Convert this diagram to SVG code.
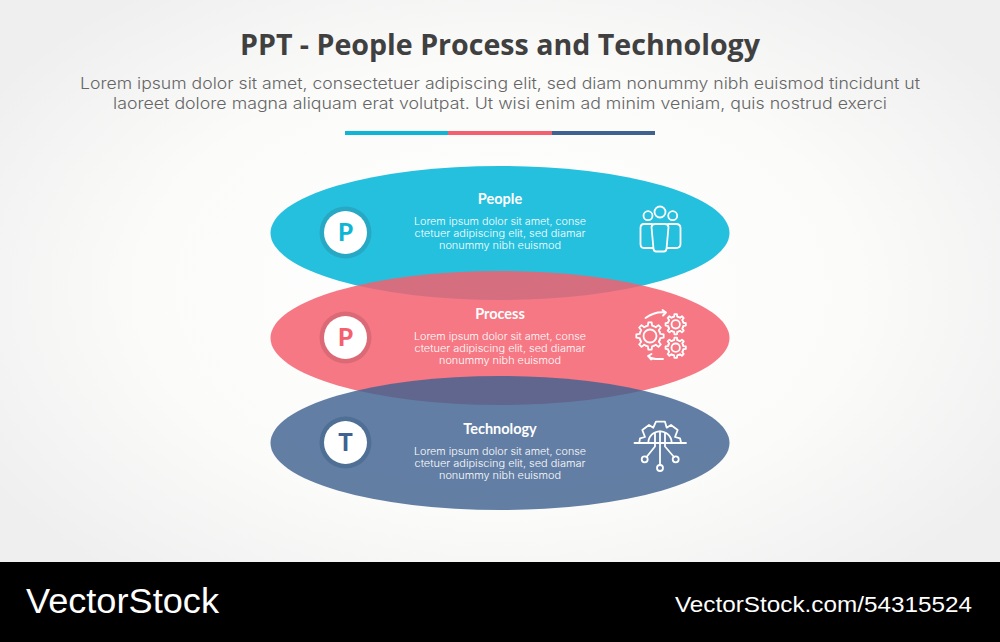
<svg xmlns="http://www.w3.org/2000/svg" width="1000" height="642" viewBox="0 0 1000 642">
<style>
.h{font-family:"Lato","Liberation Sans",sans-serif;font-weight:700;font-size:14.5px;fill:#fff;text-anchor:middle}
.b{font-family:"Inter","Liberation Sans",sans-serif;font-weight:300;font-size:10px;fill:#fff;text-anchor:middle}
.sub{font-family:"Inter","Liberation Sans",sans-serif;font-weight:300;font-size:16px;fill:#666;text-anchor:middle}
.ic{fill:none;stroke:#fff;stroke-width:1.8;stroke-linecap:round;stroke-linejoin:round}
.l{font-family:"Lato","Liberation Sans",sans-serif;font-weight:900;font-size:24px;text-anchor:middle}
</style>
<defs>
<radialGradient id="bg" cx="500" cy="290" r="600" gradientUnits="userSpaceOnUse" gradientTransform="translate(500 290) scale(1 .62) translate(-500 -290)">
<stop offset="0" stop-color="#ffffff"/><stop offset=".6" stop-color="#fbfbfa"/><stop offset="1" stop-color="#efefef"/>
</radialGradient>
<path id="t" vector-effect="non-scaling-stroke" d="M-.383-.924L-.2-.98L-.16-1.3L.16-1.3L.2-.98L.383-.924"/>
<g id="gear8">
<use href="#t"/><use href="#t" transform="rotate(45)"/><use href="#t" transform="rotate(90)"/><use href="#t" transform="rotate(135)"/><use href="#t" transform="rotate(180)"/><use href="#t" transform="rotate(225)"/><use href="#t" transform="rotate(270)"/><use href="#t" transform="rotate(315)"/>
</g>
</defs>
<rect width="1000" height="562" fill="url(#bg)"/>
<rect y="562" width="1000" height="80" fill="#000"/>
<g id="header">
<text x="500" y="55" text-anchor="middle" font-family="Open Sans,Liberation Sans,sans-serif" font-weight="700" font-size="29" fill="#404040" textLength="520" lengthAdjust="spacingAndGlyphs">PPT - People Process and Technology</text>
<text class="sub" x="500" y="88.500" textLength="840" lengthAdjust="spacingAndGlyphs">Lorem ipsum dolor sit amet, consectetuer adipiscing elit, sed diam nonummy nibh euismod tincidunt ut</text>
<text class="sub" x="500" y="108.500" textLength="774" lengthAdjust="spacingAndGlyphs">laoreet dolore magna aliquam erat volutpat. Ut wisi enim ad minim veniam, quis nostrud exerci</text>
<rect x="345" y="131" width="104" height="4" fill="#0fb5d5"/>
<rect x="448" y="131" width="104" height="4" fill="#f4606e"/>
<rect x="552" y="131" width="103" height="4" fill="#3f6290"/>
</g>
<g id="node-people">
<ellipse cx="500" cy="233" rx="229.500" ry="67" fill="#25c0de"/>
</g>
<g id="node-process">
<ellipse cx="500" cy="338" rx="229.500" ry="67" fill="#f4606e" fill-opacity=".85"/>
</g>
<g id="node-technology">
<ellipse cx="500" cy="443" rx="229.500" ry="67" fill="#3f6290" fill-opacity=".82"/>
</g>
<g id="content-people">
<circle cx="345.500" cy="232.500" r="26" fill="#27a8c5"/>
<circle cx="345.500" cy="232.500" r="21.500" fill="#fff"/>
<text class="l" x="345.500" y="240.800" fill="#0fb5d5">P</text>
<text class="h" x="500" y="204">People</text>
<text class="b" x="500" y="224.500" textLength="172" lengthAdjust="spacingAndGlyphs">Lorem ipsum dolor sit amet, conse</text>
<text class="b" x="500" y="236.500" textLength="171" lengthAdjust="spacingAndGlyphs">ctetuer adipiscing elit, sed diamar</text>
<text class="b" x="500" y="248.500" textLength="122" lengthAdjust="spacingAndGlyphs">nonummy nibh euismod</text>
<g class="ic">
<circle cx="660" cy="212" r="5.500"/><circle cx="648" cy="215.700" r="4.500"/><circle cx="672.700" cy="215.700" r="4.500"/>
<path d="M655 224H665Q668 224 668.500 227L666.500 249Q666 251.500 664 251.500H656Q654 251.500 653.500 249L651.500 227Q652 224 655 224Z"/>
<path d="M652 224H644Q640.500 224 640.500 228V244Q640.500 248 644 248H653"/>
<path d="M668 224H676Q680.500 224 680.500 228V244Q680.500 248 676 248H667"/>
</g>
</g>
<g id="content-process">
<circle cx="345.500" cy="337.500" r="26" fill="#dc6a76"/>
<circle cx="345.500" cy="337.500" r="21.500" fill="#fff"/>
<text class="l" x="345.500" y="345.800" fill="#f4606e">P</text>
<text class="h" x="500" y="319">Process</text>
<text class="b" x="500" y="339.500" textLength="172" lengthAdjust="spacingAndGlyphs">Lorem ipsum dolor sit amet, conse</text>
<text class="b" x="500" y="351.500" textLength="171" lengthAdjust="spacingAndGlyphs">ctetuer adipiscing elit, sed diamar</text>
<text class="b" x="500" y="363.500" textLength="122" lengthAdjust="spacingAndGlyphs">nonummy nibh euismod</text>
<g class="ic">
<use href="#gear8" transform="translate(650 336) scale(10.500)"/><circle cx="650" cy="336" r="6.500"/>
<use href="#gear8" transform="translate(675.700 324.300) scale(7.800)"/><circle cx="675.700" cy="324.300" r="4.200"/>
<use href="#gear8" transform="translate(675.700 347.700) scale(7.800)"/><circle cx="675.700" cy="347.700" r="4.200"/>
<path d="M645.500 318Q655 311 666 312.500M662.500 310L666 312.500L663 315.500"/>
<path d="M663 359H656Q651 359 648 356M651.500 354L648 356L651 359.500"/>
</g>
</g>
<g id="content-technology">
<circle cx="345.500" cy="442.500" r="26" fill="#4f6f95"/>
<circle cx="345.500" cy="442.500" r="21.500" fill="#fff"/>
<text class="l" x="345.500" y="450.800" fill="#3f6290">T</text>
<text class="h" x="500" y="434">Technology</text>
<text class="b" x="500" y="454.500" textLength="172" lengthAdjust="spacingAndGlyphs">Lorem ipsum dolor sit amet, conse</text>
<text class="b" x="500" y="466.500" textLength="171" lengthAdjust="spacingAndGlyphs">ctetuer adipiscing elit, sed diamar</text>
<text class="b" x="500" y="478.500" textLength="122" lengthAdjust="spacingAndGlyphs">nonummy nibh euismod</text>
<g class="ic">
<path d="M634.500 443H686"/>
<path d="M639.300 442.300L640 438.300L645 437L642.300 430L649 425L653.300 427.700L656 421.700H665L666.700 427.700L671 425L677.700 430L675 437L680 438.300L681 442.300"/>
<path d="M648.300 443A11.700 11.700 0 0 1 671.700 443"/>
<path d="M655 433V446.500L646.500 457M665 433V446.500L674 457M660 431.500V465"/>
<circle cx="660" cy="468" r="3"/><circle cx="644.700" cy="459.300" r="3"/><circle cx="675.700" cy="459.300" r="3"/>
</g>
</g>
<g id="watermark" font-family="Liberation Sans,sans-serif" fill="#fff">
<text x="26" y="613" font-size="35.500" textLength="193" lengthAdjust="spacingAndGlyphs">VectorStock</text>
<text x="972" y="612" font-size="22.500" text-anchor="end" textLength="297" lengthAdjust="spacingAndGlyphs">VectorStock.com/54315524</text>
</g>
</svg>
